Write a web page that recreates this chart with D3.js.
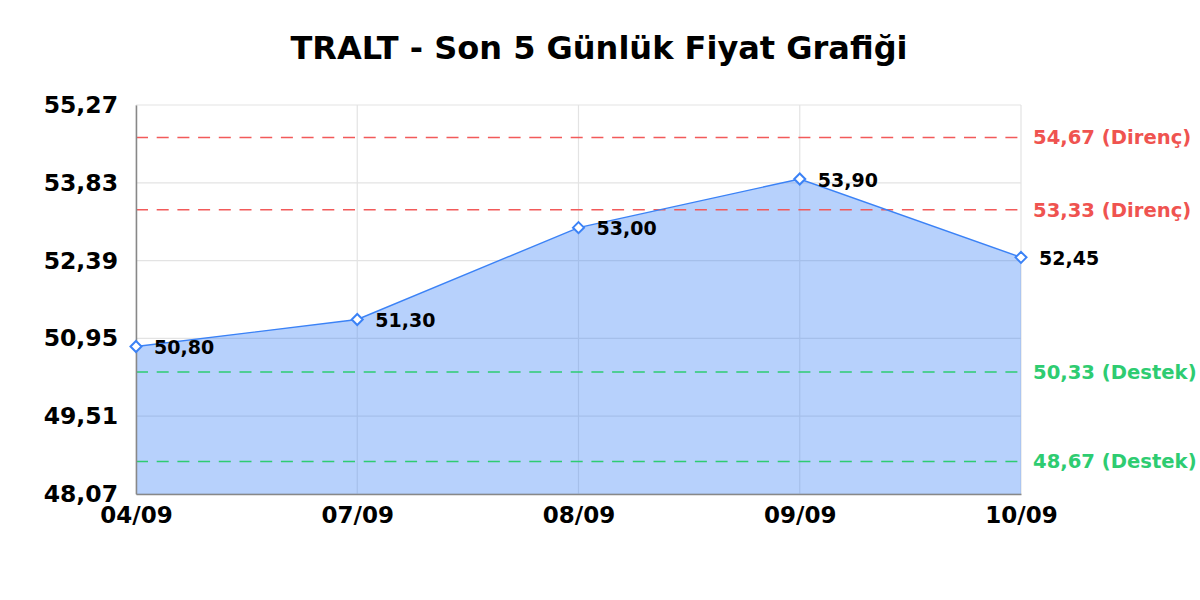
<!DOCTYPE html>
<html>
<head>
<meta charset="utf-8">
<script src="https://cdn.jsdelivr.net/npm/d3@7"></script>
<style>
  body { margin: 0; background: #fff; }
  text { font-family: "DejaVu Sans", sans-serif; font-weight: bold; }
</style>
</head>
<body>
<div id="chart"></div>
<script>
var dates = ['04/09', '07/09', '08/09', '09/09', '10/09'];
var prices = [50.80, 51.30, 53.00, 53.90, 52.45];
var yTicks = [48.07, 49.51, 50.95, 52.39, 53.83, 55.27];
var resistance = [54.67, 53.33];
var support = [50.33, 48.67];

var width = 1200, height = 600;
var margin = {top: 105, right: 179, bottom: 106, left: 136};

var svg = d3.select('#chart').append('svg')
    .attr('width', width)
    .attr('height', height);

var fmt = function (v) { return v.toFixed(2).replace('.', ','); };

var x = d3.scalePoint().domain(dates).range([margin.left, width - margin.right]);
var y = d3.scaleLinear().domain([48.07, 55.27]).range([height - margin.bottom, margin.top]);

svg.append('text')
    .attr('x', 599).attr('y', 59)
    .attr('text-anchor', 'middle')
    .style('font-size', '32px')
    .text('TRALT - Son 5 Günlük Fiyat Grafiği');

// grid
var grid = svg.append('g');
grid.selectAll('.hg').data(yTicks).enter().append('line')
    .attr('x1', margin.left).attr('x2', width - margin.right)
    .attr('y1', d => y(d)).attr('y2', d => y(d))
    .attr('stroke', '#e3e3e3').attr('stroke-width', 1.2);
grid.selectAll('.vg').data(dates).enter().append('line')
    .attr('x1', d => x(d)).attr('x2', d => x(d))
    .attr('y1', margin.top).attr('y2', height - margin.bottom)
    .attr('stroke', '#e3e3e3').attr('stroke-width', 1.2);

// area
var area = d3.area()
    .x((d, i) => x(dates[i]))
    .y0(height - margin.bottom)
    .y1(d => y(d));
svg.append('path').datum(prices)
    .attr('d', area)
    .attr('fill', 'rgba(59,130,246,0.37)');

// support / resistance
var levels = svg.append('g');
levels.selectAll('.res').data(resistance).enter().append('line')
    .attr('x1', margin.left).attr('x2', width - margin.right)
    .attr('y1', d => y(d)).attr('y2', d => y(d))
    .attr('stroke', '#f25a5a').attr('stroke-width', 1.5)
    .attr('stroke-dasharray', '12,8.7');
levels.selectAll('.sup').data(support).enter().append('line')
    .attr('x1', margin.left).attr('x2', width - margin.right)
    .attr('y1', d => y(d)).attr('y2', d => y(d))
    .attr('stroke', '#2ecc71').attr('stroke-width', 1.5)
    .attr('stroke-dasharray', '12,8.7');
levels.selectAll('.resT').data(resistance).enter().append('text')
    .attr('x', width - margin.right + 12).attr('y', d => y(d))
    .attr('dy', '0.35em')
    .attr('fill', '#ef5350')
    .style('font-size', '19.6px')
    .text(d => fmt(d) + ' (Direnç)');
levels.selectAll('.supT').data(support).enter().append('text')
    .attr('x', width - margin.right + 12).attr('y', d => y(d))
    .attr('dy', '0.35em')
    .attr('fill', '#2ecc71')
    .style('font-size', '19.6px')
    .text(d => fmt(d) + ' (Destek)');

// axes
var yAxis = svg.append('g')
    .attr('transform', `translate(${margin.left},0)`)
    .call(d3.axisLeft(y).tickValues(yTicks).tickFormat(fmt).tickSize(0).tickPadding(18));
yAxis.select('.domain').attr('stroke', '#888').attr('stroke-width', 1.5);
yAxis.selectAll('text').style('font-size', '23.5px').attr('fill', '#000');

var xAxis = svg.append('g')
    .attr('transform', `translate(0,${height - margin.bottom})`)
    .call(d3.axisBottom(x).tickSize(0).tickPadding(13));
xAxis.select('.domain').attr('stroke', '#888').attr('stroke-width', 1.5);
xAxis.selectAll('text').style('font-size', '23px').attr('fill', '#000');

// line + markers
var line = d3.line().x((d, i) => x(dates[i])).y(d => y(d));
svg.append('path').datum(prices)
    .attr('d', line)
    .attr('fill', 'none')
    .attr('stroke', '#3b82f6')
    .attr('stroke-width', 1.4);

var pts = svg.selectAll('.pt').data(prices).enter().append('g')
    .attr('transform', (d, i) => `translate(${x(dates[i])},${y(d)})`);
pts.append('path')
    .attr('d', 'M0,-5.5L5.5,0L0,5.5L-5.5,0Z')
    .attr('fill', '#fff')
    .attr('stroke', '#3b82f6')
    .attr('stroke-width', 2);
pts.append('text')
    .attr('x', 18).attr('dy', '0.4em')
    .style('font-size', '19px')
    .attr('fill', '#000')
    .text(d => fmt(d));
</script>
</body>
</html>
